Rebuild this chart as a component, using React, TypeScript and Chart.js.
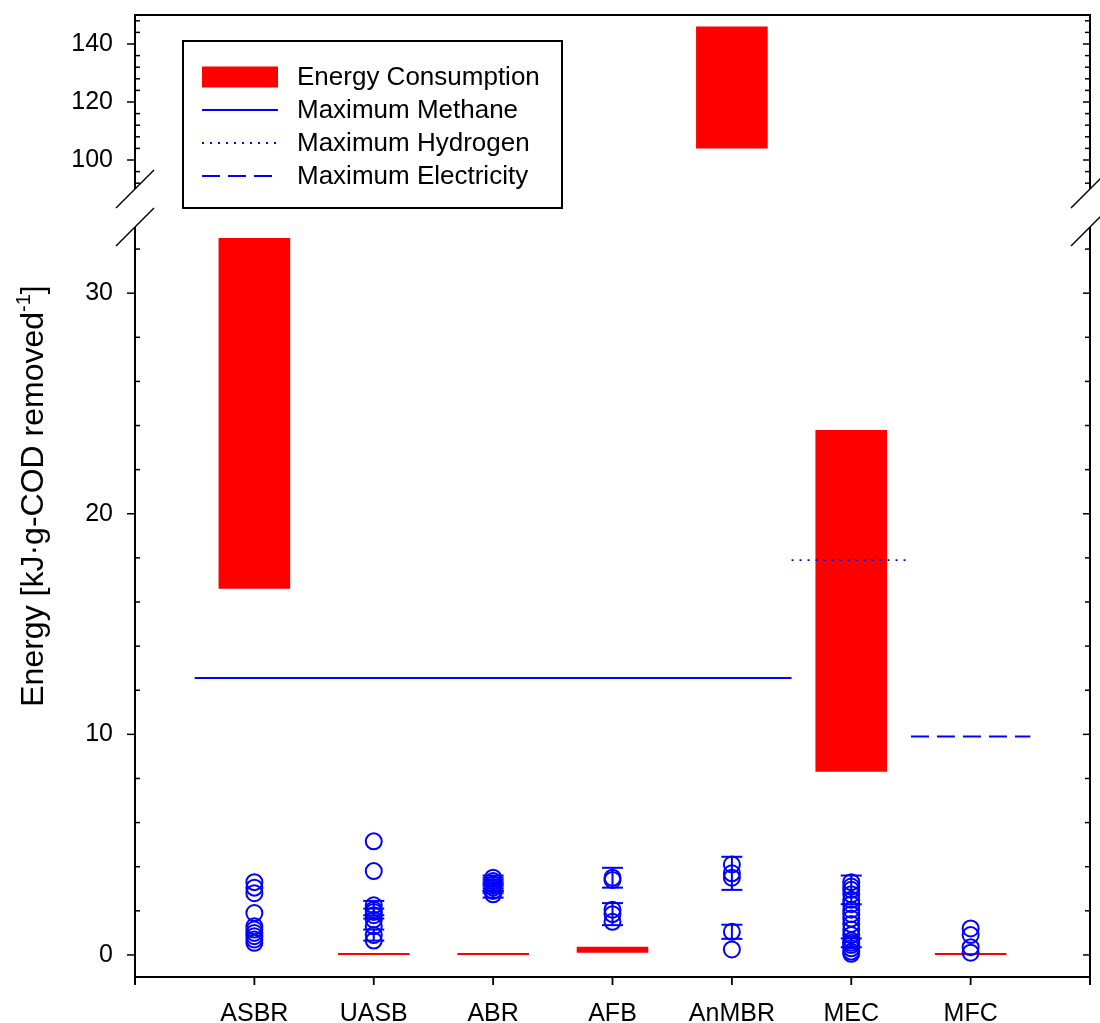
import React, { useEffect, useRef } from 'react';
import { Chart, LinearScale, registerables } from 'chart.js';

Chart.register(...registerables);

// ---------------- data ----------------
const categories = ['ASBR', 'UASB', 'ABR', 'AFB', 'AnMBR', 'MEC', 'MFC'];
const energyConsumptionLow = [16.6, 0, 0, 0.1, 104, 8.3, 0];
const energyConsumptionHigh = [32.5, 0.09, 0.09, 0.37, 146, 23.8, 0.09];

const maximumMethane = 12.55;
const methaneCategories = ['ASBR', 'UASB', 'ABR', 'AFB', 'AnMBR'];
const maximumHydrogen = 17.9;
const hydrogenCategories = ['MEC'];
const maximumElectricity = 9.9;
const electricityCategories = ['MFC'];

const asbrPoints = [3.3, 3.05, 2.8, 1.9, 1.3, 1.15, 1.0, 0.85, 0.7, 0.55];
const asbrErrors = [0, 0, 0, 0, 0, 0, 0, 0, 0, 0];
const uasbPoints = [5.15, 3.8, 2.25, 2.05, 1.95, 1.8, 1.6, 1.3, 0.9, 0.65];
const uasbErrors = [0, 0, 0, 0.4, 0.15, 0, 0, 0, 0.25, 0];
const abrPoints = [3.5, 3.35, 3.2, 3.05, 2.9, 2.75];
const abrErrors = [0.1, 0.15, 0.1, 0.15, 0.1, 0.15];
const afbPoints = [3.5, 3.4, 2.05, 1.85, 1.5];
const afbErrors = [0.45, 0, 0, 0.5, 0];
const anmbrPoints = [4.1, 3.7, 3.5, 1.05, 0.25];
const anmbrErrors = [0, 0.75, 0, 0.32, 0];
const mecPoints = [3.3, 3.1, 2.95, 2.75, 2.5, 2.3, 2.05, 1.85, 1.65, 1.4, 1.15, 0.9, 0.65, 0.55, 0.45, 0.3, 0.15, 0.05];
const mecErrors = [0, 0, 0.65, 0, 0, 0, 0, 0, 0, 0, 0, 0, 0, 0.2, 0, 0, 0, 0];
const mfcPoints = [1.2, 0.9, 0.35, 0.1];
const mfcErrors = [0, 0, 0, 0];

const lowerRange = [-1, 33];
const upperRange = [90, 150];
const lowerMajorTicks = [0, 10, 20, 30];
const upperMajorTicks = [100, 120, 140];
const lowerMinorStep = 2;
const upperMinorStep = 4;

const yTitleMain = 'Energy [kJ·g-COD removed';
const yTitleSup = '-1';
const yTitleEnd = ']';

// ---------------- styles ----------------
const RED = '#ff0000';
const BLUE = '#0000ff';
const FONT = '"Liberation Sans", Arial, Helvetica, sans-serif';
const UPPER_SHARE = 174 / 962;
const GAP_SHARE = 38 / 962;

const pointGroups = [
  { cat: 'ASBR', values: asbrPoints, errors: asbrErrors },
  { cat: 'UASB', values: uasbPoints, errors: uasbErrors },
  { cat: 'ABR', values: abrPoints, errors: abrErrors },
  { cat: 'AFB', values: afbPoints, errors: afbErrors },
  { cat: 'AnMBR', values: anmbrPoints, errors: anmbrErrors },
  { cat: 'MEC', values: mecPoints, errors: mecErrors },
  { cat: 'MFC', values: mfcPoints, errors: mfcErrors },
];

const catPos = (c: string) => categories.indexOf(c) + 1;
const spanData = (cats: string[], v: number) => [
  { x: catPos(cats[0]) - 0.5, y: v },
  { x: catPos(cats[cats.length - 1]) + 0.5, y: v },
];

// ---------------- broken y scale ----------------
class BrokenScale extends LinearScale {
  static id = 'broken';
  buildTicks() {
    return [...lowerMajorTicks, ...upperMajorTicks].map((v) => ({ value: v }));
  }
  _geom() {
    const h = this.bottom - this.top;
    const upH = h * UPPER_SHARE;
    const gapH = h * GAP_SHARE;
    const lowH = h - upH - gapH;
    return { h, upH, gapH, lowH };
  }
  getPixelForValue(value: number) {
    const { upH, gapH, lowH } = this._geom();
    if (value <= lowerRange[1]) {
      return this.bottom - ((value - lowerRange[0]) / (lowerRange[1] - lowerRange[0])) * lowH;
    }
    if (value >= upperRange[0]) {
      return this.top + ((upperRange[1] - value) / (upperRange[1] - upperRange[0])) * upH;
    }
    const t = (value - lowerRange[1]) / (upperRange[0] - lowerRange[1]);
    return this.top + upH + gapH * (1 - t);
  }
  getValueForPixel(pixel: number) {
    const { upH, gapH, lowH } = this._geom();
    if (pixel <= this.top + upH) {
      return upperRange[1] - ((pixel - this.top) / upH) * (upperRange[1] - upperRange[0]);
    }
    if (pixel >= this.top + upH + gapH) {
      return lowerRange[0] + ((this.bottom - pixel) / lowH) * (lowerRange[1] - lowerRange[0]);
    }
    const t = 1 - (pixel - this.top - upH) / gapH;
    return lowerRange[1] + t * (upperRange[0] - lowerRange[1]);
  }
}
Chart.register(BrokenScale);

// ---------------- plugins ----------------
const framePlugin = {
  id: 'frame',
  afterDatasetsDraw(chart: any) {
    const { ctx, chartArea, scales } = chart;
    const { left, right, top, bottom } = chartArea;
    const x = scales.x;
    const y = scales.y;
    const upEnd = y.getPixelForValue(upperRange[0]);
    const lowStart = y.getPixelForValue(lowerRange[1]);
    const line = (x1: number, y1: number, x2: number, y2: number) => {
      ctx.beginPath();
      ctx.moveTo(x1, y1);
      ctx.lineTo(x2, y2);
      ctx.stroke();
    };

    // error bars
    ctx.save();
    ctx.strokeStyle = BLUE;
    ctx.lineWidth = 2;
    pointGroups.forEach((g) => {
      const px = x.getPixelForValue(catPos(g.cat));
      g.values.forEach((v, i) => {
        const e = g.errors[i];
        if (!e) return;
        const y1 = y.getPixelForValue(v + e);
        const y2 = y.getPixelForValue(v - e);
        line(px, y1, px, y2);
        line(px - 10.5, y1, px + 10.5, y1);
        line(px - 10.5, y2, px + 10.5, y2);
      });
    });
    ctx.restore();

    ctx.save();
    ctx.strokeStyle = '#000';
    ctx.lineWidth = 2;
    ctx.lineCap = 'butt';
    // frame
    line(left - 1, top, right + 1, top);
    line(left - 1, bottom, right + 1, bottom);
    [left, right].forEach((ax) => {
      line(ax, top - 1, ax, upEnd);
      line(ax, lowStart, ax, bottom + 8);
    });
    // bottom ticks
    ctx.lineWidth = 1.8;
    for (let i = 1; i <= categories.length; i++) {
      const px = x.getPixelForValue(i);
      line(px, bottom, px, bottom + 8);
    }
    // y ticks
    const majors = [...lowerMajorTicks, ...upperMajorTicks];
    const minors: number[] = [];
    for (let v = lowerMinorStep; v < lowerRange[1]; v += lowerMinorStep) if (!majors.includes(v)) minors.push(v);
    for (let v = upperRange[0] + 2; v < upperRange[1]; v += upperMinorStep) if (!majors.includes(v)) minors.push(v);
    ctx.lineWidth = 1.5;
    majors.forEach((v) => {
      const py = y.getPixelForValue(v);
      line(left - 8, py, left, py);
      line(right - 7, py, right, py);
    });
    minors.forEach((v) => {
      const py = y.getPixelForValue(v);
      line(left, py, left + 5, py);
      line(right - 5, py, right, py);
    });
    // break marks
    ctx.lineWidth = 1.5;
    [left, right].forEach((ax) => {
      [upEnd, lowStart].forEach((py) => line(ax - 19, py + 19, ax + 19, py - 19));
    });
    ctx.restore();
  },
  afterDraw(chart: any) {
    const { ctx, chartArea } = chart;
    // legend
    const x0 = chartArea.left + 48;
    const y0 = chartArea.top + 26;
    const w = 379;
    const h = 167;
    ctx.save();
    ctx.fillStyle = '#fff';
    ctx.fillRect(x0, y0, w, h);
    ctx.strokeStyle = '#000';
    ctx.lineWidth = 2;
    ctx.strokeRect(x0, y0, w, h);
    const items = chart.data.datasets.filter((d: any) => d.showInLegend);
    items.forEach((d: any, i: number) => {
      const cy = y0 + 36 + i * 33;
      const sx1 = x0 + 19;
      const sx2 = x0 + 95;
      if (d.type === 'bar') {
        ctx.fillStyle = d.backgroundColor;
        ctx.fillRect(sx1, cy - 10.5, sx2 - sx1, 21);
      } else {
        ctx.strokeStyle = d.borderColor;
        ctx.lineWidth = d.borderWidth;
        ctx.setLineDash(d.borderDash || []);
        ctx.beginPath();
        ctx.moveTo(sx1, cy);
        ctx.lineTo(sx2, cy);
        ctx.stroke();
        ctx.setLineDash([]);
      }
      ctx.fillStyle = '#000';
      ctx.font = `26px ${FONT}`;
      ctx.textBaseline = 'middle';
      ctx.textAlign = 'left';
      ctx.fillText(d.label, x0 + 114, cy + 1);
    });
    ctx.restore();

    // y-axis title
    ctx.save();
    const size = 32;
    const supSize = 20;
    const cx = 31;
    const cy = (chartArea.top + chartArea.bottom) / 2;
    ctx.translate(cx, cy);
    ctx.rotate(-Math.PI / 2);
    ctx.fillStyle = '#000';
    ctx.textBaseline = 'alphabetic';
    ctx.textAlign = 'left';
    ctx.font = `${size}px ${FONT}`;
    const w1 = ctx.measureText(yTitleMain).width;
    const w3 = ctx.measureText(yTitleEnd).width;
    ctx.font = `${supSize}px ${FONT}`;
    const w2 = ctx.measureText(yTitleSup).width;
    const total = w1 + w2 + w3;
    const base = size * 0.36;
    let sx = -total / 2;
    ctx.font = `${size}px ${FONT}`;
    ctx.fillText(yTitleMain, sx, base);
    sx += w1;
    ctx.font = `${supSize}px ${FONT}`;
    ctx.fillText(yTitleSup, sx, base - size * 0.4);
    sx += w2;
    ctx.font = `${size}px ${FONT}`;
    ctx.fillText(yTitleEnd, sx, base);
    ctx.restore();
  },
};

export default function App() {
  const ref = useRef<HTMLCanvasElement | null>(null);
  useEffect(() => {
    if (!ref.current) return;
    const points = pointGroups.flatMap((g) => g.values.map((v) => ({ x: catPos(g.cat), y: v })));
    const energy = categories.map((c, i) => ({ x: i + 1, y: [energyConsumptionLow[i], energyConsumptionHigh[i]] }));
    const chart = new Chart(ref.current, {
      type: 'bar',
      data: {
        datasets: [
          {
            type: 'scatter',
            label: 'Reported production',
            data: points,
            pointStyle: 'circle',
            pointRadius: 8,
            pointBorderWidth: 2,
            pointBorderColor: BLUE,
            pointBackgroundColor: 'rgba(0,0,0,0)',
            order: 0,
          } as any,
          {
            type: 'bar',
            label: 'Energy Consumption',
            showInLegend: true,
            data: energy,
            backgroundColor: RED,
            borderWidth: 0,
            barPercentage: 0.6,
            categoryPercentage: 1,
            order: 3,
          } as any,
          {
            type: 'line',
            label: 'Maximum Methane',
            showInLegend: true,
            data: spanData(methaneCategories, maximumMethane),
            borderColor: BLUE,
            borderWidth: 2,
            pointRadius: 0,
            order: 1,
          } as any,
          {
            type: 'line',
            label: 'Maximum Hydrogen',
            showInLegend: true,
            data: spanData(hydrogenCategories, maximumHydrogen),
            borderColor: BLUE,
            borderWidth: 1.8,
            borderDash: [2, 6],
            pointRadius: 0,
            order: 1,
          } as any,
          {
            type: 'line',
            label: 'Maximum Electricity',
            showInLegend: true,
            data: spanData(electricityCategories, maximumElectricity),
            borderColor: BLUE,
            borderWidth: 2,
            borderDash: [18, 8],
            pointRadius: 0,
            order: 1,
          } as any,
        ],
      },
      options: {
        animation: false,
        responsive: false,
        devicePixelRatio: 1,
        layout: { padding: { left: 0, right: 8, top: 15, bottom: 0 } },
        plugins: { legend: { display: false }, tooltip: { enabled: false } },
        scales: {
          x: {
            type: 'linear',
            min: 0,
            max: categories.length + 1,
            offset: false,
            grid: { display: false, drawTicks: false, offset: false },
            border: { display: false },
            ticks: {
              stepSize: 1,
              autoSkip: false,
              maxRotation: 0,
              padding: 22,
              color: '#000',
              font: { family: FONT, size: 25 },
              callback: (v: any) => categories[Number(v) - 1] ?? '',
            },
            afterFit: (s: any) => {
              s.height = 46;
              s.paddingLeft = 0;
              s.paddingRight = 0;
            },
          },
          y: {
            type: 'broken' as any,
            min: lowerRange[0],
            max: upperRange[1],
            position: 'left',
            grid: { display: false, drawTicks: false },
            border: { display: false },
            ticks: {
              autoSkip: false,
              padding: 22,
              color: '#000',
              font: { family: FONT, size: 25 },
              callback: (v: any) => String(v),
            },
            afterFit: (s: any) => {
              s.width = 135;
              s.paddingTop = 0;
              s.paddingBottom = 0;
            },
          },
        },
      } as any,
      plugins: [framePlugin],
    });
    return () => chart.destroy();
  }, []);

  return (
    <div style={{ position: 'fixed', left: 0, top: 0, width: 1100, height: 1023, background: '#fff' }}>
      <canvas ref={ref} width={1100} height={1023} style={{ display: 'block', width: 1100, height: 1023 }} />
    </div>
  );
}
